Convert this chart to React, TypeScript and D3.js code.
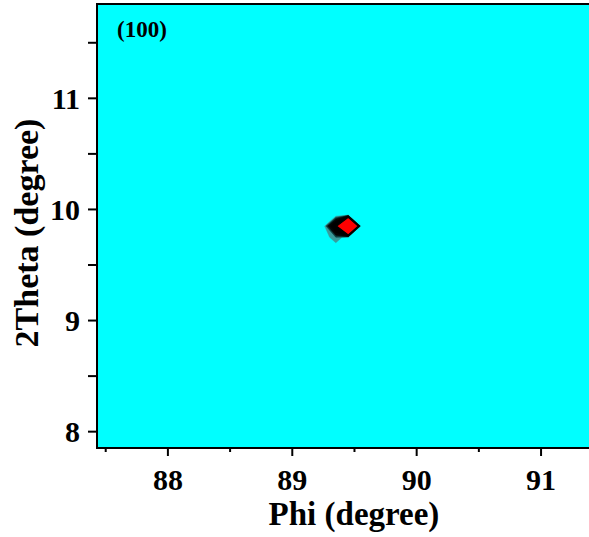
import React from "react";
import * as d3 from "d3";

// Axis ticks
const phiTicks = [88, 89, 90, 91];
const phiMinor = [87.5, 88.5, 89.5, 90.5];
const thetaTicks = [8, 9, 10, 11];
const thetaMinor = [8.5, 9.5, 10.5, 11.5];

// Intensity map around the (100) reflection (rows: top to bottom)
const gridPhi = [89.25, 89.35, 89.45, 89.55, 89.65];
const gridTheta = [10.05, 9.95, 9.85, 9.75, 9.65];
const intensity = [
  [0, 0, 0, 0, 0],
  [0, 0, 0, 0, 0],
  [0, 14, 100, 0, 0],
  [0, 3, 0, 0, 0],
  [0, 0, 0, 0, 0],
];
const levels = [1.5, 3, 5, 8, 20];
const levelColors = ["#3a9c9c", "#0c3a3a", "#050505", "#000000", "#ff0000"];

const W = 589;
const H = 537;
const L = 97;
const R = 602;
const T = 4;
const B = 448;
const FONT = "'Liberation Serif', 'Times New Roman', Times, serif";

export default function App() {
  const x = d3.scaleLinear().domain([87.43, 91.49]).range([L, R]);
  const y = d3.scaleLinear().domain([7.853, 11.849]).range([B, T]);

  const nx = gridPhi.length;
  const ny = gridTheta.length;
  const dPhi = gridPhi[1] - gridPhi[0];
  const dTheta = gridTheta[0] - gridTheta[1];
  const values = intensity.flat();
  const contours = d3.contours().size([nx, ny]).thresholds(levels)(values);
  const proj = d3.geoTransform({
    point(cx: number, cy: number) {
      (this as any).stream.point(
        x(gridPhi[0] + (cx - 0.5) * dPhi),
        y(gridTheta[0] - (cy - 0.5) * dTheta)
      );
    },
  });
  const path = d3.geoPath(proj);

  return (
    <svg
      width={W}
      height={H}
      style={{ position: "absolute", left: 0, top: 0, background: "#fff" }}
    >
      <defs>
        <clipPath id="plotclip">
          <rect x={L} y={T} width={R - L} height={B - T} />
        </clipPath>
      </defs>
      <rect x={L} y={T} width={R - L} height={B - T} fill="#00ffff" />
      <g clipPath="url(#plotclip)">
        {contours.map((c, i) => (
          <path
            key={i}
            d={path(c as any) || ""}
            fill={levelColors[i]}
            stroke={i === levels.length - 1 ? "#000" : levelColors[i]}
            strokeWidth={i === levels.length - 1 ? 1.2 : 0.5}
            strokeLinejoin="round"
          />
        ))}
      </g>
      <rect
        x={L}
        y={T}
        width={R - L}
        height={B - T}
        fill="none"
        stroke="#000"
        strokeWidth={2}
      />
      {/* x axis ticks */}
      {phiTicks.map((t) => (
        <g key={"xt" + t}>
          <line x1={x(t)} x2={x(t)} y1={B} y2={B + 8} stroke="#000" strokeWidth={2} />
          <text
            x={x(t)}
            y={490}
            textAnchor="middle"
            fontFamily={FONT}
            fontWeight="bold"
            fontSize={30}
          >
            {t}
          </text>
        </g>
      ))}
      {phiMinor.map((t) => (
        <line key={"xm" + t} x1={x(t)} x2={x(t)} y1={B} y2={B + 4} stroke="#000" strokeWidth={2} />
      ))}
      {/* y axis ticks */}
      {thetaTicks.map((t) => (
        <g key={"yt" + t}>
          <line x1={L - 9} x2={L} y1={y(t)} y2={y(t)} stroke="#000" strokeWidth={2} />
          <text
            x={80}
            y={y(t) + 10.5}
            textAnchor="end"
            fontFamily={FONT}
            fontWeight="bold"
            fontSize={30}
          >
            {t}
          </text>
        </g>
      ))}
      {thetaMinor.map((t) => (
        <line key={"ym" + t} x1={L - 9} x2={L} y1={y(t)} y2={y(t)} stroke="#000" strokeWidth={2} />
      ))}
      {/* axis titles */}
      <text
        x={354}
        y={525}
        textAnchor="middle"
        fontFamily={FONT}
        fontWeight="bold"
        fontSize={33}
      >
        Phi (degree)
      </text>
      <text
        transform={`translate(38, 233) rotate(-90)`}
        textAnchor="middle"
        fontFamily={FONT}
        fontWeight="bold"
        fontSize={34}
      >
        2Theta (degree)
      </text>
      <text x={117} y={36.5} fontFamily={FONT} fontWeight="bold" fontSize={23}>
        (100)
      </text>
    </svg>
  );
}
